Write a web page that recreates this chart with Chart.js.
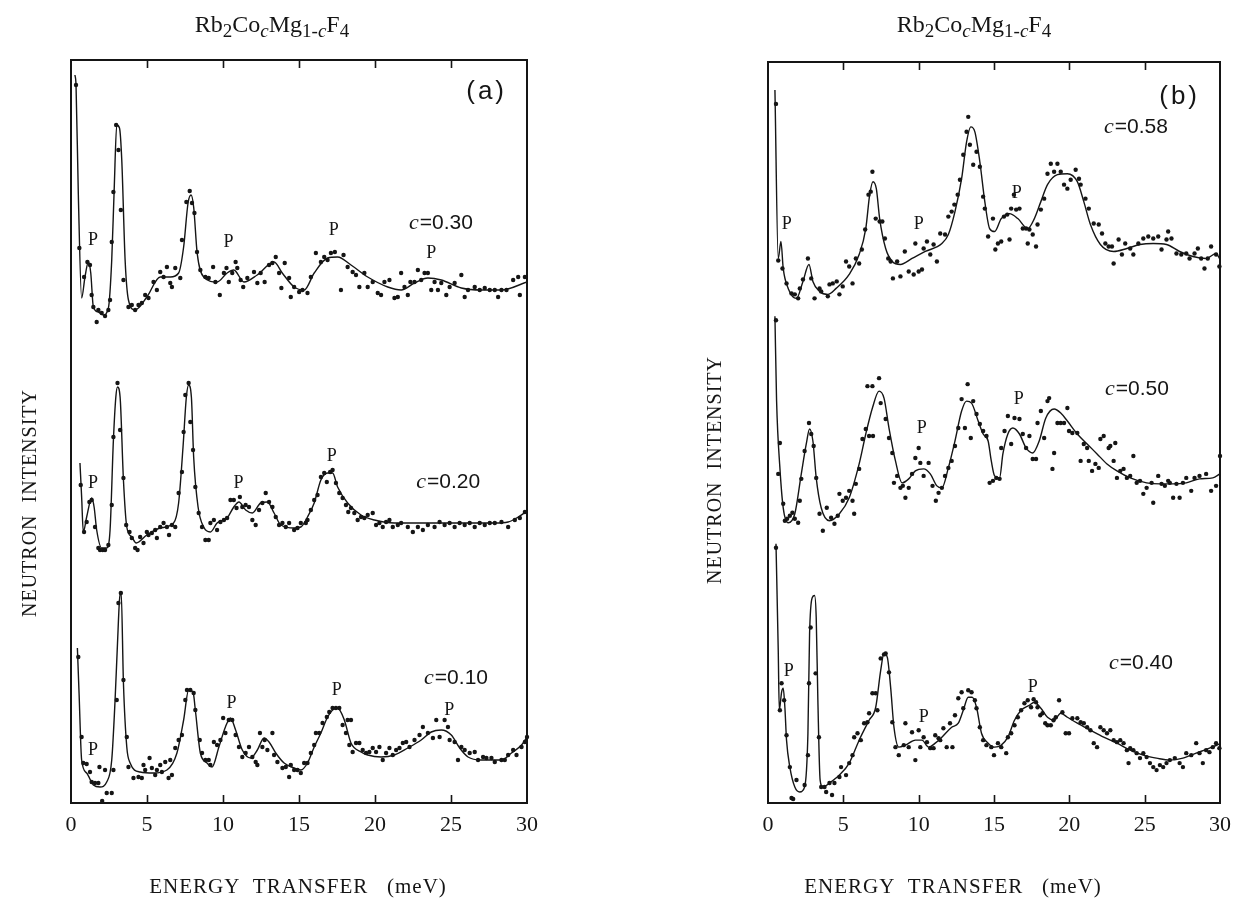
<!DOCTYPE html>
<html>
<head>
<meta charset="utf-8">
<script src="https://cdn.jsdelivr.net/npm/chart.js@4"></script>
<style>
  body { margin: 0; background: #fff; }
  #wrap { position: relative; width: 1240px; height: 901px; }
  canvas { position: absolute; top: 0; }
</style>
</head>
<body>
<div id="wrap">
  <canvas id="panelA" width="620" height="901" style="left:0"></canvas>
  <canvas id="panelB" width="620" height="901" style="left:620px"></canvas>
</div>
<script>
// energy transfer ticks (meV)
const xTicks = [0, 5, 10, 15, 20, 25, 30];

// ---- panel (a) : spectra stacked, intensity in arbitrary units ----
const concA = ['0.30', '0.20', '0.10'];

// c = 0.30 fitted curve
const fitA30 = [[0.26,728],[0.33,718],[0.48,610],[0.70,505],[0.92,526],[1.14,541],[1.30,530],[1.47,496],[1.80,491],[2.13,488],[2.46,495],[2.68,543],[2.84,613],[3.01,678],[3.19,675],[3.34,643],[3.56,543],[3.78,503],[4.22,493],[4.99,506],[5.87,526],[6.54,526],[7.08,530],[7.41,556],[7.70,600],[7.90,608],[8.07,596],[8.30,550],[8.73,526],[9.61,521],[10.27,530],[10.71,533],[11.38,521],[12.25,528],[13.36,541],[13.90,530],[14.68,516],[15.34,513],[16.00,530],[16.88,545],[17.54,546],[18.42,538],[19.52,526],[20.84,516],[21.72,513],[22.60,520],[23.48,525],[24.36,523],[25.68,515],[27.00,513],[28.32,513],[30.00,521]];
// c = 0.30 measured points
const ptsA30 = [[0.33,718],[0.55,555],[0.86,526],[1.08,541],[1.25,538],[1.36,508],[1.47,496],[1.69,481],[1.80,493],[2.02,490],[2.24,487],[2.46,493],[2.57,503],[2.68,561],[2.79,611],[2.97,678],[3.12,653],[3.28,593],[3.45,523],[3.78,496],[4.00,498],[4.22,493],[4.44,498],[4.66,500],[4.88,508],[5.10,505],[5.43,521],[5.65,513],[5.87,531],[6.09,526],[6.31,536],[6.53,520],[6.64,516],[6.86,535],[7.19,525],[7.30,563],[7.59,601],[7.81,612],[7.96,600],[8.12,590],[8.29,551],[8.51,533],[8.84,526],[9.06,525],[9.35,536],[9.50,521],[9.79,508],[10.06,530],[10.23,535],[10.38,521],[10.61,530],[10.83,541],[10.94,535],[11.16,523],[11.33,516],[11.60,525],[12.04,531],[12.26,520],[12.48,530],[12.74,521],[13.03,538],[13.25,540],[13.47,546],[13.69,530],[13.84,515],[14.06,540],[14.35,525],[14.46,506],[14.68,516],[15.01,511],[15.23,513],[15.56,510],[15.78,526],[16.11,550],[16.44,541],[16.66,546],[16.88,543],[17.10,550],[17.36,551],[17.76,513],[17.93,548],[18.20,536],[18.53,531],[18.75,528],[18.97,516],[19.30,530],[19.52,516],[19.85,521],[20.18,510],[20.40,508],[20.62,521],[20.95,523],[21.28,505],[21.50,506],[21.72,530],[21.94,516],[22.16,508],[22.33,521],[22.60,521],[22.82,533],[23.04,523],[23.26,530],[23.48,530],[23.70,513],[23.92,521],[24.14,513],[24.36,520],[24.69,508],[24.91,516],[25.24,520],[25.68,528],[25.90,506],[26.12,513],[26.56,516],[26.89,513],[27.22,515],[27.55,513],[27.88,513],[28.10,506],[28.32,513],[28.65,513],[29.09,523],[29.42,526],[29.53,508],[29.86,526]];

// c = 0.20
const fitA20 = [[0.59,340],[0.70,306],[0.81,271],[1.03,286],[1.36,305],[1.52,296],[1.69,273],[2.02,255],[2.35,255],[2.57,273],[2.79,363],[2.95,406],[3.06,416],[3.23,406],[3.45,323],[3.67,276],[4.00,266],[4.29,260],[4.99,268],[5.87,275],[6.75,280],[7.08,300],[7.37,356],[7.59,406],[7.74,418],[7.92,406],[8.07,346],[8.36,296],[8.73,276],[9.17,271],[9.61,280],[10.27,285],[10.71,296],[11.05,301],[11.49,293],[11.93,290],[12.48,300],[12.92,301],[13.36,290],[13.80,278],[14.68,275],[15.12,276],[15.56,286],[16.00,300],[16.44,323],[16.88,330],[17.21,330],[17.54,316],[18.20,300],[19.08,288],[19.96,283],[21.28,280],[23.48,280],[25.68,280],[27.88,280],[28.76,281],[29.42,286],[30.00,292]];
const ptsA20 = [[0.64,318],[0.86,271],[1.03,281],[1.21,301],[1.36,303],[1.58,276],[1.80,255],[1.91,253],[2.09,253],[2.24,253],[2.46,258],[2.68,298],[2.79,366],[3.06,420],[3.23,373],[3.45,325],[3.63,278],[3.85,271],[4.00,265],[4.22,255],[4.38,253],[4.55,266],[4.77,260],[4.99,271],[5.10,268],[5.32,270],[5.54,273],[5.65,265],[5.87,276],[6.09,280],[6.31,276],[6.45,268],[6.64,278],[6.86,276],[7.08,310],[7.30,331],[7.41,371],[7.52,408],[7.74,420],[7.85,381],[8.03,353],[8.18,316],[8.40,290],[8.62,276],[8.84,263],[9.06,263],[9.17,280],[9.40,283],[9.61,273],[9.83,281],[10.06,283],[10.27,285],[10.49,303],[10.71,303],[10.89,295],[11.11,306],[11.27,296],[11.49,298],[11.71,296],[11.93,283],[12.15,278],[12.37,293],[12.59,300],[12.81,310],[13.03,301],[13.25,296],[13.47,286],[13.69,278],[13.91,280],[14.13,276],[14.35,280],[14.68,273],[14.90,275],[15.12,280],[15.45,280],[15.56,283],[15.78,293],[16.00,303],[16.22,308],[16.44,326],[16.66,330],[16.83,321],[17.05,331],[17.21,333],[17.43,320],[17.65,310],[17.87,305],[18.09,298],[18.24,291],[18.42,295],[18.64,290],[18.86,283],[19.08,286],[19.30,285],[19.52,288],[19.85,290],[20.07,278],[20.29,280],[20.51,276],[20.73,281],[20.95,283],[21.17,276],[21.50,278],[21.72,280],[22.16,276],[22.49,271],[22.82,276],[23.15,273],[23.48,278],[23.92,276],[24.25,281],[24.58,278],[24.91,280],[25.24,276],[25.57,280],[25.90,278],[26.23,280],[26.56,276],[26.89,280],[27.22,278],[27.55,280],[27.88,280],[28.32,281],[28.76,276],[29.20,283],[29.53,285],[29.86,291]];

// c = 0.10
const fitA10 = [[0.42,155],[0.53,110],[0.70,43],[1.03,30],[1.47,18],[1.91,16],[2.35,21],[2.68,43],[2.90,103],[3.06,160],[3.19,203],[3.30,211],[3.45,120],[3.67,56],[3.89,40],[4.55,31],[5.43,30],[6.31,33],[6.97,50],[7.41,83],[7.74,113],[8.03,111],[8.18,93],[8.51,50],[8.95,40],[9.28,36],[9.73,56],[10.16,76],[10.49,85],[10.83,73],[11.27,53],[11.82,45],[12.26,53],[12.70,65],[13.03,61],[13.47,50],[14.02,40],[14.68,35],[15.12,33],[15.56,40],[16.00,56],[16.44,70],[16.88,86],[17.21,93],[17.54,95],[17.98,83],[18.42,60],[19.08,51],[19.52,48],[20.40,46],[21.28,48],[22.16,55],[23.04,63],[23.70,71],[24.36,73],[25.02,68],[25.57,55],[26.12,46],[26.99,43],[28.32,43],[28.98,50],[29.64,58],[30.00,66]];
const ptsA10 = [[0.48,146],[0.70,66],[0.81,40],[1.03,39],[1.25,31],[1.36,21],[1.58,20],[1.80,20],[1.87,36],[2.05,2],[2.24,33],[2.35,10],[2.68,10],[2.79,33],[3.01,103],[3.12,200],[3.28,210],[3.45,123],[3.67,66],[3.78,36],[4.11,25],[4.44,26],[4.66,25],[4.77,38],[4.88,33],[5.17,45],[5.32,35],[5.54,28],[5.65,33],[5.87,38],[5.98,31],[6.20,41],[6.42,25],[6.53,43],[6.64,28],[6.86,55],[7.08,63],[7.30,68],[7.52,103],[7.63,113],[7.85,113],[8.07,110],[8.18,93],[8.47,63],[8.62,50],[8.84,43],[9.06,43],[9.17,38],[9.40,61],[9.61,58],[9.83,63],[10.01,85],[10.16,70],[10.38,83],[10.61,83],[10.83,68],[11.05,56],[11.27,46],[11.49,50],[11.71,56],[11.93,46],[12.15,41],[12.26,38],[12.43,70],[12.59,56],[12.74,63],[12.92,53],[13.25,70],[13.36,48],[13.58,41],[13.91,35],[14.13,36],[14.35,26],[14.46,38],[14.68,33],[14.90,33],[15.12,30],[15.34,40],[15.56,40],[15.78,50],[16.00,58],[16.11,70],[16.33,70],[16.55,80],[16.83,86],[16.99,91],[17.21,95],[17.43,95],[17.65,95],[17.87,78],[18.09,70],[18.20,83],[18.31,58],[18.42,83],[18.53,51],[18.75,60],[18.97,60],[19.19,53],[19.41,50],[19.63,51],[19.85,55],[20.07,51],[20.29,56],[20.51,43],[20.73,50],[20.95,55],[21.17,48],[21.39,53],[21.61,55],[21.83,60],[22.05,61],[22.27,56],[22.60,63],[22.93,68],[23.15,76],[23.48,70],[23.81,65],[24.03,83],[24.25,66],[24.58,83],[24.80,76],[24.91,63],[25.24,61],[25.46,43],[25.68,56],[25.90,53],[26.23,50],[26.56,51],[26.78,43],[27.11,46],[27.33,45],[27.66,45],[27.88,41],[28.32,43],[28.54,43],[28.76,48],[29.09,53],[29.31,48],[29.64,56],[29.86,61],[30.00,66]];

// ---- panel (b) ----
const concB = ['0.58', '0.50', '0.40'];

// c = 0.58
const fitB58 = [[0.46,715],[0.68,546],[0.86,563],[1.01,536],[1.34,516],[1.89,506],[2.32,523],[2.72,540],[2.98,523],[3.42,513],[3.97,510],[4.52,516],[5.39,530],[6.05,550],[6.49,576],[6.75,610],[6.97,623],[7.19,616],[7.41,586],[7.81,556],[8.25,543],[8.79,540],[9.56,546],[10.44,553],[11.54,561],[11.97,570],[12.41,593],[12.85,626],[13.18,663],[13.46,678],[13.73,673],[14.06,643],[14.39,603],[14.71,576],[15.04,573],[15.48,586],[16.03,591],[16.58,586],[17.24,576],[17.68,586],[18.11,603],[18.55,620],[19.21,630],[19.87,631],[20.53,623],[20.96,603],[21.40,580],[22.06,560],[22.94,553],[23.82,556],[24.69,560],[25.57,561],[26.45,560],[27.32,553],[28.20,548],[29.08,546],[29.74,551],[30.00,545]];
const ptsB58 = [[0.53,701],[0.68,544],[0.96,536],[1.23,521],[1.56,511],[1.78,510],[2.00,506],[2.11,516],[2.32,525],[2.65,546],[2.87,526],[3.09,506],[3.42,516],[3.53,513],[3.97,508],[4.08,520],[4.30,521],[4.56,523],[4.74,510],[4.96,518],[5.18,543],[5.39,538],[5.61,521],[5.83,546],[6.05,541],[6.23,555],[6.45,575],[6.67,610],[6.82,613],[6.93,633],[7.15,586],[7.41,583],[7.59,583],[7.76,566],[7.98,546],[8.14,543],[8.29,526],[8.57,543],[8.79,528],[9.08,553],[9.34,533],[9.67,530],[9.78,561],[10.00,533],[10.22,535],[10.33,556],[10.55,563],[10.77,550],[10.99,560],[11.21,543],[11.43,571],[11.75,570],[11.97,588],[12.19,593],[12.37,600],[12.59,610],[12.74,625],[12.96,650],[13.18,673],[13.29,688],[13.40,660],[13.62,640],[13.84,653],[14.06,638],[14.28,608],[14.39,596],[14.61,568],[14.93,586],[15.09,555],[15.26,561],[15.48,563],[15.66,588],[15.88,590],[16.03,565],[16.14,596],[16.32,610],[16.47,595],[16.69,596],[16.91,576],[17.13,576],[17.24,561],[17.35,575],[17.57,570],[17.79,558],[17.89,580],[18.11,595],[18.33,606],[18.55,631],[18.77,641],[18.99,633],[19.21,641],[19.43,633],[19.65,620],[19.87,616],[20.09,625],[20.42,635],[20.64,626],[20.75,620],[21.07,606],[21.29,596],[21.62,581],[21.95,580],[22.17,571],[22.39,561],[22.61,558],[22.83,558],[22.94,541],[23.27,565],[23.49,550],[23.71,561],[24.04,556],[24.25,550],[24.58,561],[24.91,566],[25.24,568],[25.57,566],[25.90,568],[26.12,555],[26.45,565],[26.56,573],[26.78,566],[27.11,551],[27.43,550],[27.76,551],[27.98,546],[28.31,551],[28.53,556],[28.75,546],[28.97,536],[29.19,546],[29.41,558],[29.74,550],[29.96,538]];

// c = 0.50
const fitB50 = [[0.46,488],[0.57,403],[0.79,336],[1.01,296],[1.34,281],[1.78,290],[2.21,330],[2.54,360],[2.76,375],[2.98,363],[3.20,326],[3.53,296],[4.08,283],[4.74,290],[5.39,306],[6.05,340],[6.49,370],[6.93,396],[7.37,413],[7.70,406],[8.03,376],[8.46,343],[8.90,321],[9.34,325],[9.78,333],[10.33,335],[10.77,330],[11.21,318],[11.54,316],[11.97,336],[12.41,363],[12.85,393],[13.18,403],[13.51,401],[13.95,383],[14.28,370],[14.61,363],[14.82,343],[15.04,328],[15.37,326],[15.59,350],[15.92,370],[16.25,376],[16.69,370],[17.13,356],[17.57,351],[18.00,363],[18.44,386],[18.99,395],[19.43,391],[19.87,383],[20.53,370],[21.18,360],[21.84,350],[22.50,340],[23.16,333],[24.04,326],[25.13,321],[26.01,320],[26.89,320],[27.76,321],[28.64,325],[29.52,326],[30.00,330]];
const ptsB50 = [[0.53,484],[0.68,330],[0.79,361],[1.01,300],[1.12,283],[1.27,285],[1.45,288],[1.62,291],[1.78,285],[2.00,281],[2.11,303],[2.21,325],[2.43,353],[2.72,381],[2.87,370],[3.03,358],[3.20,326],[3.42,290],[3.64,273],[3.90,296],[4.19,286],[4.41,280],[4.63,288],[4.74,310],[4.96,303],[5.18,306],[5.39,313],[5.61,303],[5.72,290],[5.83,320],[6.05,335],[6.27,365],[6.49,375],[6.60,418],[6.71,368],[6.93,418],[6.97,368],[7.37,426],[7.48,401],[7.81,385],[8.03,366],[8.25,351],[8.36,321],[8.57,328],[8.79,316],[8.95,318],[9.12,306],[9.34,316],[9.56,330],[9.78,346],[10.00,356],[10.11,341],[10.33,328],[10.66,341],[10.92,318],[11.14,303],[11.32,311],[11.54,316],[11.75,328],[11.97,336],[12.19,343],[12.41,358],[12.63,376],[12.85,405],[13.07,376],[13.25,420],[13.46,366],[13.62,403],[13.84,390],[14.06,380],[14.28,373],[14.50,368],[14.71,321],[14.93,323],[15.15,326],[15.37,325],[15.48,356],[15.70,373],[15.92,388],[16.14,360],[16.36,386],[16.69,385],[16.91,370],[17.13,356],[17.35,368],[17.57,345],[17.79,345],[17.89,381],[18.11,393],[18.33,366],[18.55,403],[18.66,406],[18.88,335],[18.99,351],[19.21,381],[19.43,381],[19.65,381],[19.87,396],[19.98,373],[20.20,371],[20.53,371],[20.75,343],[20.96,360],[21.18,356],[21.29,343],[21.51,333],[21.73,340],[21.95,336],[22.06,365],[22.28,368],[22.61,356],[22.72,358],[22.94,343],[23.05,361],[23.16,326],[23.38,333],[23.60,335],[23.82,326],[24.04,328],[24.25,348],[24.47,321],[24.69,323],[24.91,310],[25.13,316],[25.46,321],[25.57,301],[25.90,328],[26.12,320],[26.34,318],[26.56,323],[26.67,321],[26.89,306],[27.11,320],[27.32,306],[27.54,321],[27.76,326],[28.09,313],[28.31,326],[28.64,328],[29.08,330],[29.41,313],[29.74,318],[30.00,348]];

// c = 0.40
const fitB40 = [[0.53,260],[0.68,153],[0.75,93],[0.90,111],[1.01,115],[1.12,96],[1.23,63],[1.45,36],[1.78,16],[2.11,11],[2.43,16],[2.65,70],[2.76,170],[2.94,206],[3.09,208],[3.20,186],[3.31,103],[3.46,23],[3.64,16],[4.08,20],[4.74,28],[5.39,40],[6.05,63],[6.71,83],[7.15,96],[7.48,133],[7.70,150],[7.92,146],[8.14,116],[8.36,76],[8.68,56],[9.12,58],[9.78,63],[10.22,63],[10.66,56],[11.10,60],[11.54,66],[12.19,76],[12.63,80],[12.96,93],[13.29,106],[13.55,106],[13.84,96],[14.17,70],[14.61,60],[15.04,56],[15.48,58],[15.92,66],[16.36,83],[16.80,93],[17.35,98],[17.68,101],[18.11,95],[18.55,86],[18.99,83],[19.43,90],[19.87,86],[20.53,80],[21.40,73],[22.28,66],[23.16,60],[24.04,53],[24.91,48],[25.79,45],[26.67,43],[27.54,45],[28.42,50],[29.30,55],[29.96,59]];
const ptsB40 = [[0.53,256],[0.79,93],[0.90,120],[1.07,103],[1.23,68],[1.45,36],[1.56,5],[1.67,4],[1.89,23],[2.43,18],[2.65,48],[2.72,120],[2.83,176],[3.16,130],[3.38,66],[3.53,16],[3.75,16],[3.86,11],[4.08,20],[4.25,8],[4.41,20],[4.74,26],[4.85,36],[5.18,28],[5.39,40],[5.61,48],[5.72,66],[5.94,70],[6.16,63],[6.38,80],[6.60,81],[6.71,90],[6.93,110],[7.15,110],[7.26,93],[7.48,145],[7.70,149],[7.81,150],[8.03,131],[8.25,81],[8.46,56],[8.68,48],[9.01,58],[9.12,80],[9.34,56],[9.56,71],[9.78,43],[10.00,73],[10.11,56],[10.33,66],[10.55,61],[10.77,55],[10.99,55],[11.10,68],[11.32,65],[11.43,63],[11.64,75],[11.86,56],[12.08,80],[12.24,56],[12.41,88],[12.63,105],[12.85,111],[12.96,95],[13.29,113],[13.51,111],[13.73,103],[13.84,95],[14.06,76],[14.28,63],[14.50,58],[14.82,56],[15.00,48],[15.26,60],[15.48,56],[15.81,50],[15.92,66],[16.14,70],[16.36,78],[16.58,86],[16.80,93],[17.02,100],[17.24,103],[17.46,96],[17.63,104],[17.79,101],[17.89,96],[18.07,88],[18.22,90],[18.40,80],[18.55,78],[18.77,78],[18.95,83],[19.10,86],[19.32,103],[19.54,91],[19.76,70],[19.98,70],[20.20,85],[20.53,85],[20.75,81],[20.96,80],[21.18,76],[21.40,73],[21.62,60],[21.84,56],[22.06,76],[22.28,73],[22.50,70],[22.72,73],[22.94,63],[23.16,61],[23.38,63],[23.60,60],[23.82,53],[23.93,40],[24.04,55],[24.25,53],[24.47,50],[24.69,45],[24.91,50],[25.13,46],[25.35,40],[25.57,36],[25.79,33],[26.01,38],[26.23,36],[26.45,40],[26.67,43],[27.00,45],[27.32,40],[27.54,36],[27.76,50],[28.09,48],[28.42,60],[28.64,50],[28.86,40],[29.08,53],[29.30,51],[29.52,56],[29.74,60],[29.96,55]];

// "P" markers (phonon-like peaks) and concentration labels, in data coordinates
const pMarksA = [[1.45,563],[10.36,561],[17.29,573],[23.7,550],[1.45,320],[11.02,320],[17.16,347],[1.45,53],[10.56,100],[17.49,113],[24.88,93]];
const pMarksB = [[1.25,580],[10.0,580],[16.51,611],[10.2,376],[16.64,405],[1.38,132],[10.33,86],[17.57,116]];
const concPosA = [[22.24,580],[22.71,321],[23.23,125]];
const concPosB = [[22.30,678],[22.37,415],[22.63,140]];

const INK = '#151515';
const SERIF = '"Liberation Serif", "DejaVu Serif", serif';
const SANS = '"Liberation Sans", Arial, sans-serif';

function toXY(arr) {
    return arr.map(p => ({ x: p[0], y: p[1] }));
}

function curveSet(arr) {
    return {
        data: toXY(arr),
        borderColor: INK,
        borderWidth: 1.4,
        pointRadius: 0,
        fill: false,
        cubicInterpolationMode: 'monotone',
        showLine: true
    };
}

function dotSet(arr) {
    return {
        data: toXY(arr),
        showLine: false,
        pointRadius: 2.2,
        pointBackgroundColor: INK,
        pointBorderWidth: 0,
        clip: 6
    };
}

// draws frame, inward ticks, labels and titles
const decorPlugin = {
    id: 'decor',
    afterDatasetsDraw(chart, args, o) {
        const ctx = chart.ctx;
        const a = chart.chartArea;
        const xs = chart.scales.x, ys = chart.scales.y;
        ctx.save();
        ctx.strokeStyle = INK;
        ctx.fillStyle = INK;

        // frame
        ctx.lineWidth = 2;
        ctx.strokeRect(a.left, a.top, a.right - a.left, a.bottom - a.top);
        ctx.lineWidth = 1.6;
        xTicks.slice(1, -1).forEach(v => {
            const px = Math.round(xs.getPixelForValue(v)) + 0.5;
            ctx.beginPath();
            ctx.moveTo(px, a.bottom); ctx.lineTo(px, a.bottom - 8);
            ctx.moveTo(px, a.top); ctx.lineTo(px, a.top + 8);
            ctx.stroke();
        });

        // P markers
        ctx.font = '18px ' + SERIF;
        ctx.textAlign = 'center';
        ctx.textBaseline = 'middle';
        o.pMarks.forEach(p => ctx.fillText('P', xs.getPixelForValue(p[0]), ys.getPixelForValue(p[1])));

        // concentration labels  c=0.30 ...
        ctx.textAlign = 'left';
        o.conc.forEach((c, i) => {
            let px = xs.getPixelForValue(o.concPos[i][0]);
            const py = ys.getPixelForValue(o.concPos[i][1]);
            ctx.font = 'italic 22px ' + SERIF;
            ctx.fillText('c', px, py);
            px += ctx.measureText('c').width + 1;
            ctx.font = '21px ' + SANS;
            ctx.fillText('=' + c, px, py);
        });

        // panel letter
        ctx.font = '26px ' + SANS;
        ctx.letterSpacing = '3px';
        ctx.textAlign = 'right';
        ctx.fillText(o.letter, a.right - 20, a.top + o.letterDy);
        ctx.letterSpacing = '0px';

        // title Rb2CocMg1-cF4
        const runs = [['Rb', 0, ''], ['2', 1, ''], ['Co', 0, ''], ['c', 1, 'italic '], ['Mg', 0, ''], ['1-', 1, ''], ['c', 1, 'italic '], ['F', 0, ''], ['4', 1, '']];
        const fontOf = r => r[2] + (r[1] ? '19px ' : '24px ') + SERIF;
        let tw = 0;
        runs.forEach(r => { ctx.font = fontOf(r); tw += ctx.measureText(r[0]).width; });
        let tx = (a.left + a.right) / 2 + o.titleDx - tw / 2;
        ctx.textAlign = 'left';
        ctx.textBaseline = 'alphabetic';
        runs.forEach(r => {
            ctx.font = fontOf(r);
            ctx.fillText(r[0], tx, 32 + (r[1] ? 5 : 0));
            tx += ctx.measureText(r[0]).width;
        });

        // axis titles
        ctx.textAlign = 'center';
        ctx.textBaseline = 'middle';
        ctx.font = '21px ' + SERIF;
        ctx.letterSpacing = '1px';
        ctx.fillText('ENERGY  TRANSFER   (meV)', (a.left + a.right) / 2 + o.xTitleDx, 887);
        ctx.translate(a.left - o.yTitleDx, o.yTitleY);
        ctx.rotate(-Math.PI / 2);
        ctx.font = '20px ' + SERIF;
        ctx.fillText('NEUTRON  INTENSITY', 0, 0);
        ctx.restore();
    }
};

function makePanel(id, fits, pts, pad, deco) {
    const datasets = [];
    fits.forEach((f, i) => {
        datasets.push(curveSet(f));
        datasets.push(dotSet(pts[i]));
    });
    return new Chart(document.getElementById(id), {
        type: 'line',
        data: { datasets },
        options: {
            responsive: false,
            animation: false,
            devicePixelRatio: 1,
            layout: { padding: { left: pad.left, right: pad.right, top: pad.top, bottom: 0 } },
            plugins: {
                legend: { display: false },
                tooltip: { enabled: false },
                decor: deco
            },
            scales: {
                x: {
                    type: 'linear',
                    min: xTicks[0],
                    max: xTicks[xTicks.length - 1],
                    afterBuildTicks: s => { s.ticks = xTicks.map(v => ({ value: v })); },
                    afterFit: s => { s.height = 901 - pad.bottom; },
                    grid: { display: false, drawTicks: false },
                    border: { display: false },
                    ticks: {
                        color: INK,
                        padding: 9,
                        maxRotation: 0,
                        autoSkip: false,
                        font: { family: SERIF, size: 22 }
                    }
                },
                y: { display: false, min: 0, max: 743 }
            }
        },
        plugins: [decorPlugin]
    });
}

makePanel('panelA', [fitA30, fitA20, fitA10], [ptsA30, ptsA20, ptsA10],
    { left: 71, right: 93, top: 60, bottom: 803 },
    { pMarks: pMarksA, conc: concA, concPos: concPosA, letter: '(a)', letterDy: 32,
      titleDx: -27, xTitleDx: -1, yTitleDx: 40, yTitleY: 503 });

makePanel('panelB', [fitB58, fitB50, fitB40], [ptsB58, ptsB50, ptsB40],
    { left: 148, right: 15, top: 62, bottom: 803 },
    { pMarks: pMarksB, conc: concB, concPos: concPosB, letter: '(b)', letterDy: 35,
      titleDx: -20, xTitleDx: -41, yTitleDx: 52, yTitleY: 470 });
</script>
</body>
</html>
